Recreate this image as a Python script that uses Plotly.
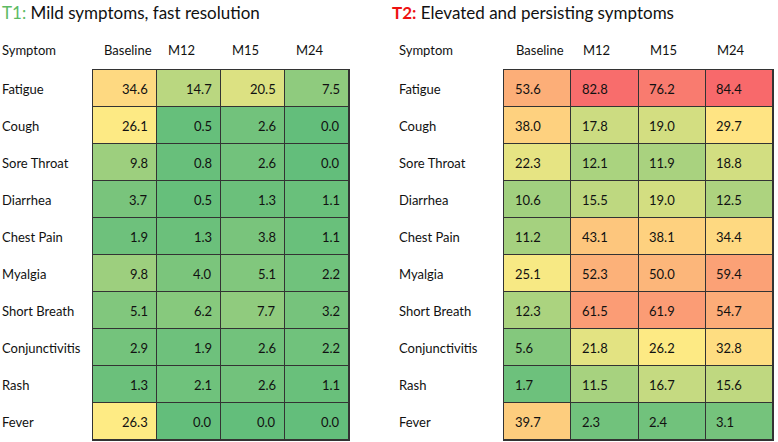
import plotly.graph_objects as go

symptoms = ["Fatigue", "Cough", "Sore Throat", "Diarrhea", "Chest Pain",
            "Myalgia", "Short Breath", "Conjunctivitis", "Rash", "Fever"]
timepoints = ["Baseline", "M12", "M15", "M24"]

t1_values = [
    [34.6, 14.7, 20.5, 7.5],
    [26.1, 0.5, 2.6, 0.0],
    [9.8, 0.8, 2.6, 0.0],
    [3.7, 0.5, 1.3, 1.1],
    [1.9, 1.3, 3.8, 1.1],
    [9.8, 4.0, 5.1, 2.2],
    [5.1, 6.2, 7.7, 3.2],
    [2.9, 1.9, 2.6, 2.2],
    [1.3, 2.1, 2.6, 1.1],
    [26.3, 0.0, 0.0, 0.0],
]
t2_values = [
    [53.6, 82.8, 76.2, 84.4],
    [38.0, 17.8, 19.0, 29.7],
    [22.3, 12.1, 11.9, 18.8],
    [10.6, 15.5, 19.0, 12.5],
    [11.2, 43.1, 38.1, 34.4],
    [25.1, 52.3, 50.0, 59.4],
    [12.3, 61.5, 61.9, 54.7],
    [5.6, 21.8, 26.2, 32.8],
    [1.7, 11.5, 16.7, 15.6],
    [39.7, 2.3, 2.4, 3.1],
]

FONT = "Lato"
zmax = max(max(r) for r in t1_values + t2_values)
mid = 26.5 / zmax
colorscale = [[0, "#63BE7B"], [mid, "#FFEB84"], [1, "#F8696B"]]

fig = go.Figure()
xi = list(range(len(timepoints)))
yi = list(range(len(symptoms)))

for k, vals in enumerate([t1_values, t2_values]):
    xa = "x" if k == 0 else "x2"
    ya = "y" if k == 0 else "y2"
    fig.add_trace(go.Heatmap(
        z=vals, x=xi, y=yi, zmin=0, zmax=zmax, colorscale=colorscale,
        showscale=False, xgap=1, ygap=1, xaxis=xa, yaxis=ya, hoverinfo="skip"))

ann = []
header_y = 392 / 442
for k, vals in enumerate([t1_values, t2_values]):
    xr = "x" if k == 0 else "x2"
    yr = "y" if k == 0 else "y2"
    for i, row in enumerate(vals):
        for j, v in enumerate(row):
            if k == 0:
                ann.append(dict(x=j, y=i, xref=xr, yref=yr, text=f"{v:.1f}",
                                xanchor="right", xshift=25, showarrow=False,
                                font=dict(family=FONT, size=13, color="#111")))
            else:
                ann.append(dict(x=j, y=i, xref=xr, yref=yr, text=f"{v:.1f}",
                                xanchor="left", xshift=-25, showarrow=False,
                                font=dict(family=FONT, size=13, color="#111")))
    for j, tp in enumerate(timepoints):
        ann.append(dict(x=j, y=header_y, xref=xr, yref="paper", text=tp,
                        xanchor="left", yanchor="middle",
                        xshift=-23 if k == 0 else -24, showarrow=False,
                        font=dict(family=FONT, size=13, color="#111")))
    lx = 0.0 if k == 0 else 397 / 778
    ann.append(dict(x=lx, y=header_y, xref="paper", yref="paper", text="Symptom",
                    xanchor="left", yanchor="middle", showarrow=False,
                    font=dict(family=FONT, size=13, color="#111")))
    for i, s in enumerate(symptoms):
        ann.append(dict(x=lx, y=i, xref="paper", yref=yr, text=s,
                        xanchor="left", showarrow=False,
                        font=dict(family=FONT, size=13, color="#111")))

ann.append(dict(x=0, y=1.0, xref="paper", yref="paper", yanchor="top", xanchor="left",
                text="<span style='color:#5DBB63'>T1:</span> Mild symptoms, fast resolution",
                showarrow=False, font=dict(family=FONT, size=17, color="#111")))
ann.append(dict(x=390 / 778, y=1.0, xref="paper", yref="paper", yanchor="top", xanchor="left",
                text="<b><span style='color:#EE1111'>T2:</span></b> Elevated and persisting symptoms",
                showarrow=False, font=dict(family=FONT, size=17, color="#111")))

axis_common = dict(showgrid=False, zeroline=False, showticklabels=False, ticks="",
                   showline=True, mirror=True, linecolor="#333", linewidth=1)
ydom = [2 / 442, 372 / 442]
fig.update_layout(
    width=778, height=442, margin=dict(l=0, r=0, t=0, b=0),
    paper_bgcolor="white", plot_bgcolor="#333",
    showlegend=False, annotations=ann,
    xaxis=dict(domain=[93 / 778, 349 / 778], range=[-0.5, 3.5], **axis_common),
    yaxis=dict(domain=ydom, range=[9.5, -0.5], **axis_common),
    xaxis2=dict(domain=[504 / 778, 773 / 778], range=[-0.5, 3.5], anchor="y2", **axis_common),
    yaxis2=dict(domain=ydom, range=[9.5, -0.5], anchor="x2", **axis_common),
)
fig.write_html("out.html", config={"displayModeBar": False},
               post_script="document.body.style.margin='0';document.body.style.overflow='hidden';")
